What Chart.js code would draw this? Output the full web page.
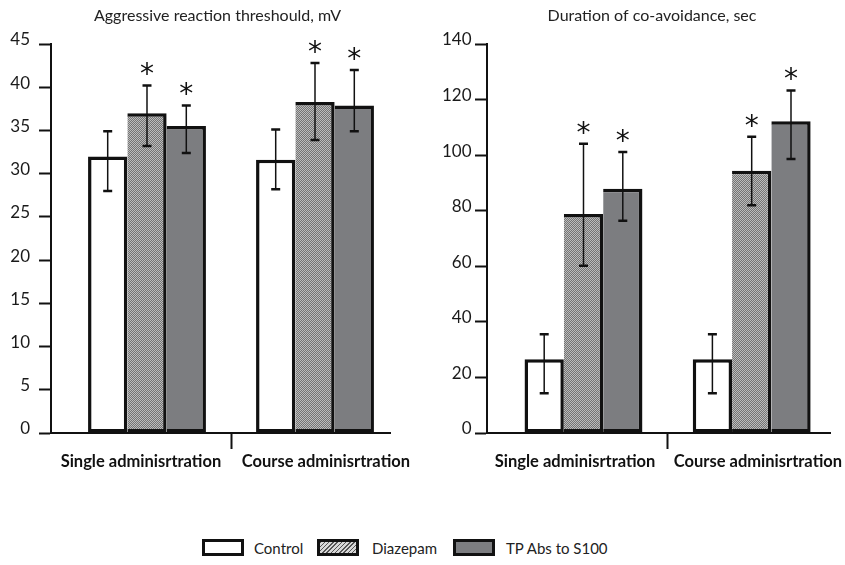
<!DOCTYPE html>
<html><head><meta charset="utf-8">
<script src="https://cdn.jsdelivr.net/npm/chart.js@4"></script>
<style>
html,body{margin:0;padding:0;background:#fff;overflow:hidden;width:845px;height:565px;position:relative;}
#c1{position:absolute;left:0;top:0;}
#c2{position:absolute;left:420px;top:0;}
.sw{position:absolute;top:539px;width:42px;height:17px;box-sizing:border-box;border:3px solid #111;}
.lt{position:absolute;top:539px;font:15px Lato, "Open Sans", sans-serif;line-height:19px;color:#222;white-space:nowrap;}
</style>
</head><body>
<canvas id="c1" width="435" height="480"></canvas>
<canvas id="c2" width="464" height="480"></canvas>
<div class="sw" style="left:202px;background:#fff"></div><span class="lt" style="left:254px">Control</span>
<div class="sw" id="sw2" style="left:317px"></div><span class="lt" style="left:372px">Diazepam</span>
<div class="sw" style="left:453px;background:#7c7d80"></div><span class="lt" style="left:506px">TP Abs to S100</span>
<script>
// ---- data ----
const categories = ['Single adminisrtration', 'Course adminisrtration'];
const seriesNames = ['Control', 'Diazepam', 'TP Abs to S100'];

// Left: Aggressive reaction threshould, mV
const aggrTitle = 'Aggressive reaction threshould, mV';
const aggrTicks = [0, 5, 10, 15, 20, 25, 30, 35, 40, 45];
const aggrControl = [32.0, 31.6];
const aggrControlLow = [28.0, 28.2];
const aggrControlHigh = [34.9, 35.1];
const aggrDiazepam = [37.0, 38.3];
const aggrDiazepamLow = [33.2, 33.9];
const aggrDiazepamHigh = [40.2, 42.8];
const aggrTP = [35.5, 37.9];
const aggrTPLow = [32.4, 34.9];
const aggrTPHigh = [37.9, 42.0];

// Right: Duration of co-avoidance, sec
const durTitle = 'Duration of co-avoidance, sec';
const durTicks = [0, 20, 40, 60, 80, 100, 120, 140];
const durControl = [26.5, 26.5];
const durControlLow = [14.3, 14.3];
const durControlHigh = [35.5, 35.5];
const durDiazepam = [78.8, 94.4];
const durDiazepamLow = [60.2, 82.0];
const durDiazepamHigh = [104.1, 106.6];
const durTP = [87.9, 112.2];
const durTPLow = [76.4, 98.6];
const durTPHigh = [101.1, 123.3];

// significance markers (*)
const sigControl = [false, false];
const sigDiazepam = [true, true];
const sigTP = [true, true];

// ---- styles ----
function hatchPattern() {
  const c = document.createElement('canvas');
  c.width = 2; c.height = 2;
  const x = c.getContext('2d');
  x.fillStyle = '#bcbcbc'; x.fillRect(0, 0, 2, 2);
  x.fillStyle = '#747474';
  x.fillRect(1, 0, 1, 1); x.fillRect(0, 1, 1, 1);
  return x.createPattern(c, 'repeat');
}
const HATCH = hatchPattern();
document.getElementById('sw2').style.background =
  'repeating-linear-gradient(135deg, #555 0 1px, #d8d8d8 1px 3px)';

const INK = '#111';
const BW = 3.5;

const errorBars = {
  id: 'errorBars',
  afterDatasetsDraw(chart) {
    const ctx = chart.ctx;
    const ys = chart.scales.y;
    ctx.save();
    chart.data.datasets.forEach((ds, di) => {
      const meta = chart.getDatasetMeta(di);
      meta.data.forEach((bar, i) => {
        const x = bar.x;
        const yHi = ys.getPixelForValue(ds.errHigh[i]);
        const yLo = ys.getPixelForValue(ds.errLow[i]);
        ctx.strokeStyle = INK;
        ctx.lineWidth = 1.5;
        ctx.beginPath(); ctx.moveTo(x, yHi); ctx.lineTo(x, yLo); ctx.stroke();
        ctx.lineWidth = 2.5;
        ctx.beginPath();
        ctx.moveTo(x - 4.5, yHi); ctx.lineTo(x + 4.5, yHi);
        ctx.moveTo(x - 4.5, yLo); ctx.lineTo(x + 4.5, yLo);
        ctx.stroke();
        if (ds.sig[i]) {
          ctx.font = '28px "DejaVu Sans"';
          ctx.fillStyle = INK;
          ctx.textAlign = 'center';
          ctx.textBaseline = 'alphabetic';
          const m = ctx.measureText('*');
          const off = (m.actualBoundingBoxAscent - m.actualBoundingBoxDescent) / 2;
          ctx.fillText('*', x, yHi - 16 + off);
        }
      });
    });
    ctx.restore();
  }
};

function barDs(label, values, low, high, sig, fill, leftBorder) {
  return {
    label, data: values.map((v, i) => ({x: i, y: v})),
    errLow: low, errHigh: high, sig,
    backgroundColor: fill, borderColor: INK,
    borderWidth: {top: BW, right: BW, bottom: BW, left: leftBorder ? BW : 0},
    borderSkipped: false, barThickness: 39.3, inflateAmount: 0
  };
}

function makeChart(id, opt) {
  return new Chart(document.getElementById(id), {
    type: 'bar',
    data: {
      datasets: [
        barDs(seriesNames[0], opt.c, opt.cl, opt.ch, sigControl, '#ffffff', true),
        barDs(seriesNames[1], opt.d, opt.dl, opt.dh, sigDiazepam, HATCH, false),
        barDs(seriesNames[2], opt.t, opt.tl, opt.th, sigTP, '#7c7d80', false)
      ]
    },
    options: {
      responsive: false, animation: false, devicePixelRatio: 1,
      layout: {padding: 0},
      plugins: {
        legend: {display: false}, tooltip: {enabled: false},
        title: {display: true, text: opt.title, color: '#222',
          font: {family: 'Lato', size: 16, weight: 'normal', lineHeight: 1.2},
          padding: {top: 6.5, bottom: 44 - 6.5 - 19.2}}
      },
      scales: {
        x: {
          type: 'linear', min: opt.xMin, max: opt.xMax, offset: false,
          grid: {display: true, drawOnChartArea: false, drawTicks: true, offset: false,
            tickLength: 16, tickWidth: 2,
            tickColor: c => (c.index === 1) ? INK : 'rgba(0,0,0,0)'},
          border: {display: true, color: INK, width: 2},
          // category labels (slightly off-centre as in the original), divider tick between groups
          afterBuildTicks: s => {
            s.ticks = [{value: 0 + opt.labelShift[0]}, {value: 0.5}, {value: 1 + opt.labelShift[1]}];
          },
          ticks: {autoSkip: false, maxRotation: 0, minRotation: 0, padding: 3,
            color: '#111', font: {family: 'Lato', size: 16.5, weight: 'bold'},
            callback: (v, i) => i === 0 ? categories[0] : (i === 2 ? categories[1] : '')},
          afterFit: s => { s.height = 47; s.paddingLeft = 0; s.paddingRight = opt.padRight; }
        },
        y: {
          min: opt.yTicks[0], max: opt.yTicks[opt.yTicks.length - 1],
          afterBuildTicks: s => { s.ticks = opt.yTicks.map(v => ({value: v})); },
          grid: {drawOnChartArea: false, drawTicks: true, tickLength: 12, tickWidth: 2, tickColor: INK},
          border: {display: true, color: INK, width: 2},
          ticks: {padding: opt.yPad, labelOffset: -4, color: '#1a1a1a',
            font: {family: 'Lato', size: 17}},
          afterFit: s => { s.width = opt.yWidth; s.paddingTop = 0; s.paddingBottom = 0; }
        }
      }
    },
    plugins: [errorBars]
  });
}

makeChart('c1', {
  title: aggrTitle, yTicks: aggrTicks,
  c: aggrControl, cl: aggrControlLow, ch: aggrControlHigh,
  d: aggrDiazepam, dl: aggrDiazepamLow, dh: aggrDiazepamHigh,
  t: aggrTP, tl: aggrTPLow, th: aggrTPHigh,
  yWidth: 51, yPad: 9, padRight: 45, xMin: -0.5714, xMax: 1.4464,
  labelShift: [-0.036, 0.065]
});
makeChart('c2', {
  title: durTitle, yTicks: durTicks,
  c: durControl, cl: durControlLow, ch: durControlHigh,
  d: durDiazepam, dl: durDiazepamLow, dh: durDiazepamHigh,
  t: durTP, tl: durTPLow, th: durTPHigh,
  yWidth: 67, yPad: 3.5, padRight: 53.3, xMin: -0.5737, xMax: 1.4697,
  labelShift: [-0.05, 0.037]
});
</script>
</body></html>
